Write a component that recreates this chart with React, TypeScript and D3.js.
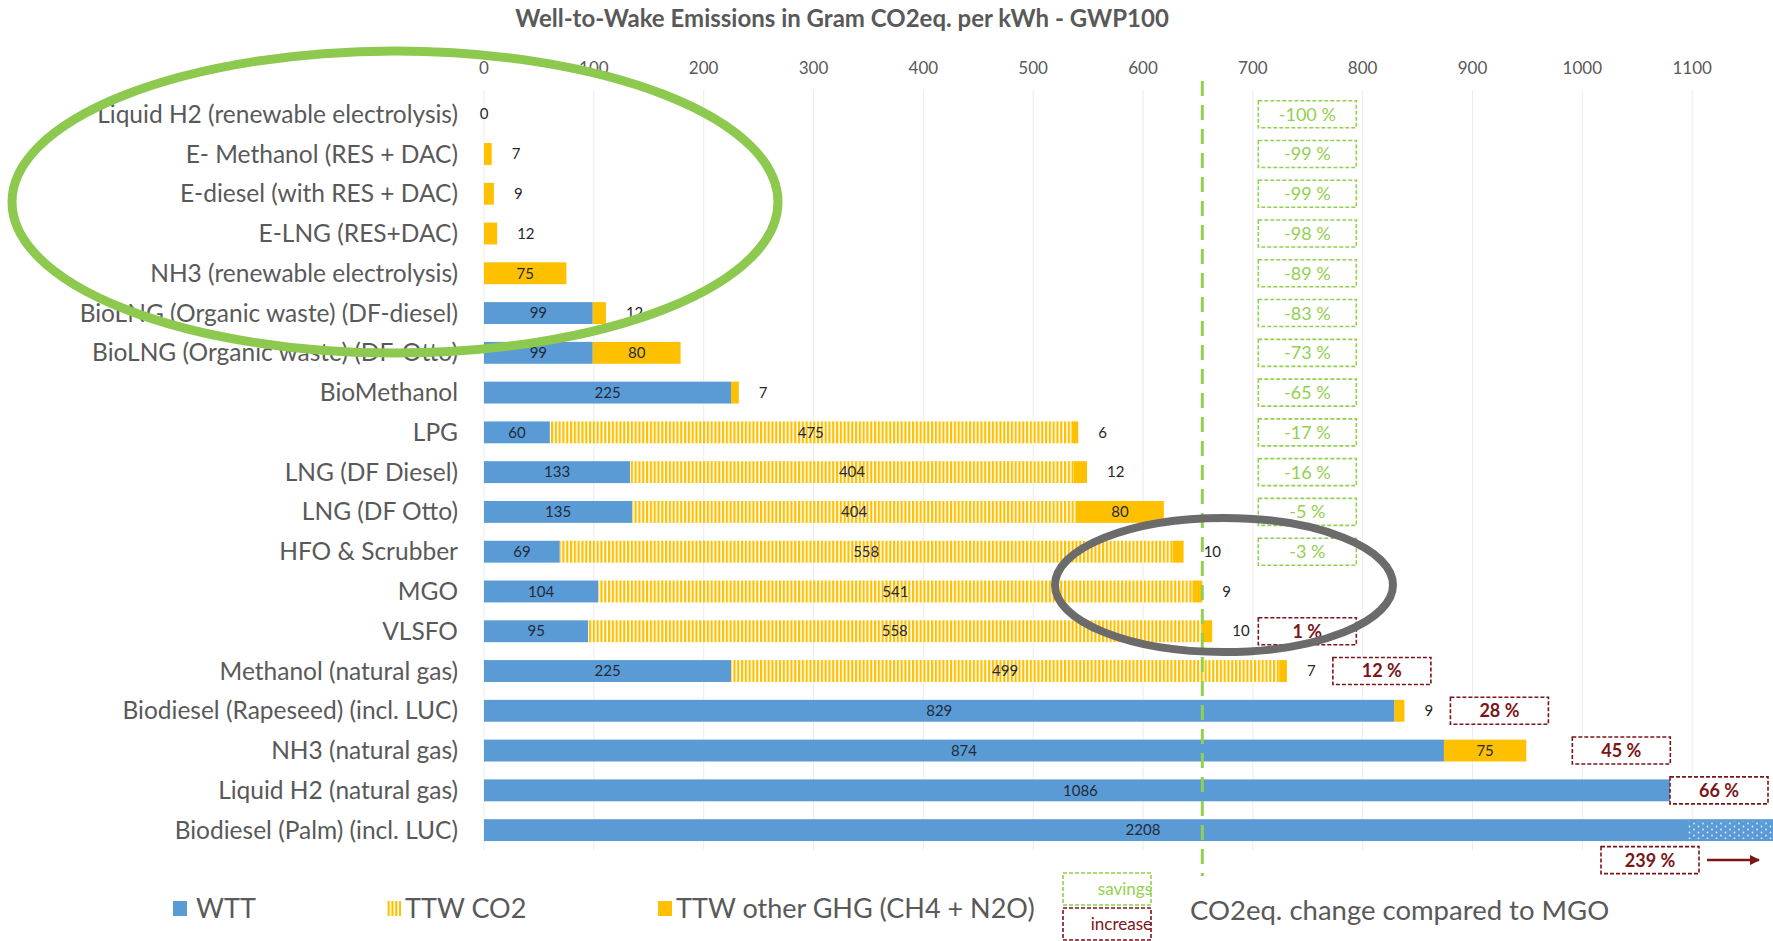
import { useEffect, useRef } from "react";
import * as d3 from "d3";

// Well-to-Wake emissions per fuel, g CO2eq / kWh (GWP100)

const categories = [
  "Liquid H2 (renewable electrolysis)",
  "E- Methanol (RES + DAC)",
  "E-diesel (with RES + DAC)",
  "E-LNG (RES+DAC)",
  "NH3 (renewable electrolysis)",
  "BioLNG (Organic waste) (DF-diesel)",
  "BioLNG (Organic waste) (DF-Otto)",
  "BioMethanol",
  "LPG",
  "LNG (DF Diesel)",
  "LNG (DF Otto)",
  "HFO & Scrubber",
  "MGO",
  "VLSFO",
  "Methanol (natural gas)",
  "Biodiesel (Rapeseed) (incl. LUC)",
  "NH3 (natural gas)",
  "Liquid H2 (natural gas)",
  "Biodiesel (Palm) (incl. LUC)",
];

const wtt = [0, 0, 0, 0, 0, 99, 99, 225, 60, 133, 135, 69, 104, 95, 225, 829, 874, 1086, 2208];
const ttwCo2 = [0, 0, 0, 0, 0, 0, 0, 0, 475, 404, 404, 558, 541, 558, 499, 0, 0, 0, 0];
const ttwOther: (number | null)[] = [0, 7, 9, 12, 75, 12, 80, 7, 6, 12, 80, 10, 9, 10, 7, 9, 75, null, null];

// change compared to MGO, in %
const changeVsMgo: (number | null)[] = [
  -100, -99, -99, -98, -89, -83, -73, -65, -17, -16, -5, -3, null, 1, 12, 28, 45, 66, 239,
];

const xTicks = [0, 100, 200, 300, 400, 500, 600, 700, 800, 900, 1000, 1100];
const seriesNames = ["WTT", "TTW CO2", "TTW other GHG (CH4 + N2O)"];
const referenceFuel = "MGO";

const W = 1773;
const H = 941;
const BLUE = "#5B9BD5";
const GOLD = "#FFC000";
const GREY = "#595959";
const GREEN = "#92D050";
const DARKRED = "#7B1518";
const FONT = "Lato, 'Open Sans', sans-serif";

export default function App() {
  const svgRef = useRef<SVGSVGElement>(null);

  useEffect(() => {
    document.body.style.margin = "0";
    if (!svgRef.current) return;
    const svg = d3.select(svgRef.current);
    svg.selectAll("*").remove();

    const x = d3.scaleLinear().domain([0, 1200]).range([484, 484 + 1318]);
    const y = d3
      .scaleBand<string>()
      .domain(categories)
      .range([94.3, 850])
      .paddingInner(0.45)
      .paddingOuter(0.225);
    const bw = y.bandwidth();
    const xMax = x.domain()[1];

    const defs = svg.append("defs");
    const stripes = defs
      .append("pattern")
      .attr("id", "stripes")
      .attr("patternUnits", "userSpaceOnUse")
      .attr("width", 3.8)
      .attr("height", 10);
    stripes.append("rect").attr("width", 3.8).attr("height", 10).attr("fill", "#fff");
    stripes.append("rect").attr("width", 2.2).attr("height", 10).attr("fill", GOLD);

    const dots = defs
      .append("pattern")
      .attr("id", "dots")
      .attr("patternUnits", "userSpaceOnUse")
      .attr("width", 9)
      .attr("height", 6);
    dots.append("rect").attr("width", 9).attr("height", 6).attr("fill", BLUE);
    dots.append("circle").attr("cx", 2).attr("cy", 1.5).attr("r", 0.9).attr("fill", "#dfeaf6");
    dots.append("circle").attr("cx", 6.5).attr("cy", 4.5).attr("r", 0.9).attr("fill", "#dfeaf6");

    const arrow = defs
      .append("marker")
      .attr("id", "arrow")
      .attr("viewBox", "0 0 10 10")
      .attr("refX", 9)
      .attr("refY", 5)
      .attr("markerWidth", 4)
      .attr("markerHeight", 4)
      .attr("orient", "auto");
    arrow.append("path").attr("d", "M0,0 L10,5 L0,10 z").attr("fill", DARKRED);

    svg.append("rect").attr("width", W).attr("height", H).attr("fill", "#fff");

    // title
    svg
      .append("text")
      .attr("x", 842)
      .attr("y", 19)
      .attr("dy", "0.35em")
      .attr("text-anchor", "middle")
      .attr("fill", GREY)
      .style("font-family", FONT)
      .style("font-size", "24px")
      .style("font-weight", "bold")
      .text("Well-to-Wake Emissions in Gram CO2eq. per kWh - GWP100");

    // grid + ticks
    const grid = svg.append("g");
    grid
      .selectAll("line")
      .data(xTicks)
      .enter()
      .append("line")
      .attr("x1", (d) => x(d))
      .attr("x2", (d) => x(d))
      .attr("y1", 90)
      .attr("y2", 850)
      .attr("stroke", "#ececec")
      .attr("stroke-width", 1);
    grid
      .selectAll("text")
      .data(xTicks)
      .enter()
      .append("text")
      .attr("x", (d) => x(d))
      .attr("y", 68)
      .attr("dy", "0.35em")
      .attr("text-anchor", "middle")
      .attr("fill", GREY)
      .style("font-family", FONT)
      .style("font-size", "17px")
      .text((d) => d);

    // category labels
    svg
      .append("g")
      .selectAll("text")
      .data(categories)
      .enter()
      .append("text")
      .attr("x", 458)
      .attr("y", (d) => (y(d) as number) + bw / 2)
      .attr("dy", "0.35em")
      .attr("text-anchor", "end")
      .attr("fill", GREY)
      .style("font-family", FONT)
      .style("font-size", "24.5px")
      .text((d) => d);

    // stacked bars
    const bars = svg.append("g");
    const labels = svg.append("g");
    categories.forEach((cat, i) => {
      const top = y(cat) as number;
      const cy = top + bw / 2;
      const segs = [
        { v: wtt[i], fill: BLUE },
        { v: ttwCo2[i], fill: "url(#stripes)" },
        { v: ttwOther[i] ?? 0, fill: GOLD },
      ];
      let start = 0;
      segs.forEach((s, k) => {
        const end = start + s.v;
        const a = Math.min(start, xMax);
        const b = Math.min(end, xMax);
        if (s.v > 0) {
          bars
            .append("rect")
            .attr("x", x(a))
            .attr("y", top)
            .attr("width", Math.max(0, x(b) - x(a)))
            .attr("height", bw)
            .attr("fill", s.fill);
          const inside = k < 2 || s.v >= 30;
          if (inside) {
            labels
              .append("text")
              .attr("x", (x(a) + x(b)) / 2)
              .attr("y", cy)
              .attr("dy", "0.35em")
              .attr("text-anchor", "middle")
              .attr("fill", "#1f2a3a")
              .style("font-family", FONT)
              .style("font-size", "15px")
              .text(s.v);
          }
        }
        start = end;
      });
      const other = ttwOther[i];
      if (other !== null && other < 30) {
        labels
          .append("text")
          .attr("x", other === 0 ? x(0) : x(Math.min(start, xMax)) + 20)
          .attr("y", cy)
          .attr("dy", "0.35em")
          .attr("text-anchor", other === 0 ? "middle" : "start")
          .attr("fill", "#262626")
          .style("font-family", FONT)
          .style("font-size", "15px")
          .text(other);
      }
      // axis break on bars that run off the axis
      if (start > xMax) {
        bars
          .append("rect")
          .attr("x", x(1096))
          .attr("y", top + 2)
          .attr("width", x(xMax) - x(1096))
          .attr("height", bw - 4)
          .attr("fill", "url(#dots)");
      }
    });

    // reference line at MGO total
    const mi = categories.indexOf(referenceFuel);
    const mgoTotal = wtt[mi] + ttwCo2[mi] + (ttwOther[mi] ?? 0);
    svg
      .append("line")
      .attr("x1", x(mgoTotal))
      .attr("x2", x(mgoTotal))
      .attr("y1", 81)
      .attr("y2", 876)
      .attr("stroke", GREEN)
      .attr("stroke-width", 3)
      .attr("stroke-dasharray", "15 9");

    // change boxes
    const boxW = 98;
    const boxH = 27;
    const colLeft = x(705);
    const ann = svg.append("g");
    categories.forEach((cat, i) => {
      const v = changeVsMgo[i];
      if (v === null) return;
      const cy = (y(cat) as number) + bw / 2;
      const total = wtt[i] + ttwCo2[i] + (ttwOther[i] ?? 0);
      const up = v > 0;
      let left = colLeft;
      let by = cy;
      if (up) left = Math.min(Math.max(colLeft, x(total) + 46), W - 5 - boxW);
      if (total > xMax) {
        left = W - 172;
        by = cy + 30;
        ann
          .append("line")
          .attr("x1", left + boxW + 8)
          .attr("x2", W - 14)
          .attr("y1", by)
          .attr("y2", by)
          .attr("stroke", DARKRED)
          .attr("stroke-width", 2.5)
          .attr("marker-end", "url(#arrow)");
      }
      const col = up ? DARKRED : GREEN;
      ann
        .append("rect")
        .attr("x", left)
        .attr("y", by - boxH / 2)
        .attr("width", boxW)
        .attr("height", boxH)
        .attr("fill", "#fff")
        .attr("stroke", col)
        .attr("stroke-width", 1.6)
        .attr("stroke-dasharray", "4 2");
      ann
        .append("text")
        .attr("x", left + boxW / 2)
        .attr("y", by)
        .attr("dy", "0.36em")
        .attr("text-anchor", "middle")
        .attr("fill", col)
        .style("font-family", FONT)
        .style("font-size", "18px")
        .style("font-weight", up ? "bold" : "normal")
        .text(`${v} %`);
    });

    // legend
    const lg = svg.append("g");
    const legendItems = [
      { name: seriesNames[0], fill: BLUE, sx: 173, tx: 196 },
      { name: seriesNames[1], fill: "url(#stripes)", sx: 387, tx: 405 },
      { name: seriesNames[2], fill: GOLD, sx: 658, tx: 676 },
    ];
    legendItems.forEach((it) => {
      lg.append("rect")
        .attr("x", it.sx)
        .attr("y", 901)
        .attr("width", 14)
        .attr("height", 15)
        .attr("fill", it.fill);
      lg.append("text")
        .attr("x", it.tx)
        .attr("y", 909)
        .attr("dy", "0.35em")
        .attr("fill", GREY)
        .style("font-family", FONT)
        .style("font-size", "27px")
        .text(it.name);
    });
    [
      { t: "savings", col: GREEN, y0: 873 },
      { t: "increase", col: DARKRED, y0: 908 },
    ].forEach((b) => {
      lg.append("rect")
        .attr("x", 1063)
        .attr("y", b.y0)
        .attr("width", 88)
        .attr("height", 32)
        .attr("fill", "#fff")
        .attr("stroke", b.col)
        .attr("stroke-width", 1.6)
        .attr("stroke-dasharray", "4 2");
      lg.append("text")
        .attr("x", 1152)
        .attr("y", b.y0 + 16)
        .attr("dy", "0.35em")
        .attr("text-anchor", "end")
        .attr("fill", b.col)
        .style("font-family", FONT)
        .style("font-size", "17px")
        .text(b.t);
    });
    lg.append("text")
      .attr("x", 1190)
      .attr("y", 910)
      .attr("dy", "0.35em")
      .attr("fill", GREY)
      .style("font-family", FONT)
      .style("font-size", "27.5px")
      .text(`CO2eq. change compared to ${referenceFuel}`);

    // highlight ellipses
    svg
      .append("ellipse")
      .attr("cx", 395)
      .attr("cy", 202)
      .attr("rx", 383)
      .attr("ry", 151)
      .attr("fill", "none")
      .attr("stroke", "#8DC94E")
      .attr("stroke-width", 9);
    svg
      .append("ellipse")
      .attr("cx", 1224)
      .attr("cy", 585)
      .attr("rx", 169)
      .attr("ry", 67)
      .attr("fill", "none")
      .attr("stroke", "#6b6b6b")
      .attr("stroke-width", 8);
  }, []);

  return <svg ref={svgRef} width={W} height={H} style={{ display: "block" }} />;
}
